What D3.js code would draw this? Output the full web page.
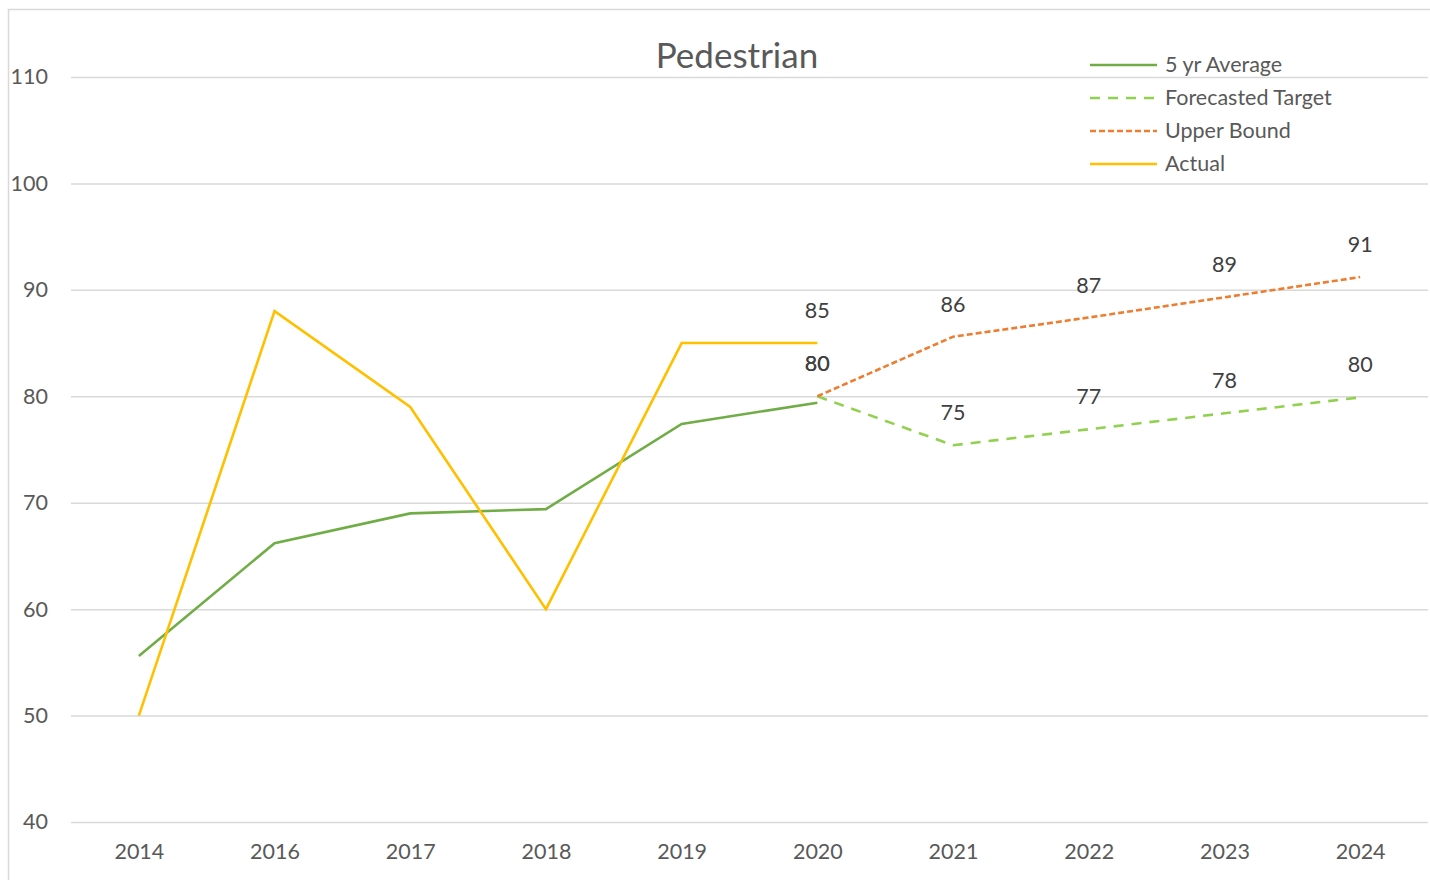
<!DOCTYPE html>
<html>
<head>
<meta charset="utf-8">
<script src="https://cdn.jsdelivr.net/npm/d3@7"></script>
<style>
  body { margin: 0; background: #fff; }
  text { font-family: Lato, "Open Sans", sans-serif; }
</style>
</head>
<body>
<div class="chart"></div>
<script>
// data
var years = ["2014", "2016", "2017", "2018", "2019", "2020", "2021", "2022", "2023", "2024"];
var yTicks = [40, 50, 60, 70, 80, 90, 100, 110];

var actual = [50, 88, 79, 60, 85, 85, null, null, null, null];
var fiveYrAvg = [55.6, 66.2, 69.0, 69.4, 77.4, 79.4, null, null, null, null];
var forecastTarget = [null, null, null, null, null, 80, 75.4, 76.9, 78.4, 79.9];
var upperBound = [null, null, null, null, null, 80, 85.6, 87.4, 89.3, 91.2];

var actualLabels = [null, null, null, null, null, "85", null, null, null, null];
var targetLabels = [null, null, null, null, null, "80", "75", "77", "78", "80"];
var upperLabels = [null, null, null, null, null, "80", "86", "87", "89", "91"];

// dimensions
var W = 1430, H = 880;
var margin = {top: 77, right: 2, bottom: 58, left: 71};
var width = W - margin.left - margin.right;
var height = H - margin.top - margin.bottom;

var svg = d3.select(".chart")
  .append("svg")
  .attr("width", W)
  .attr("height", H);

// outer frame
svg.append("rect")
  .attr("x", 8.5).attr("y", 9.5)
  .attr("width", W).attr("height", H)
  .attr("fill", "none")
  .attr("stroke", "#d9d9d9")
  .attr("stroke-width", 1.5);

var chart = svg.append("g")
  .attr("transform", "translate(" + margin.left + "," + margin.top + ")");

// scales
var x = d3.scalePoint().domain(years).range([0, width]).padding(0.5);
var y = d3.scaleLinear().domain([40, 110]).range([height, 0]);

// gridlines
chart.append("g")
  .attr("class", "grid")
  .call(d3.axisLeft(y).tickValues(yTicks).tickSize(-width).tickFormat(""))
  .call(function(g) {
    g.select(".domain").remove();
    g.selectAll("line").attr("stroke", "#d9d9d9").attr("stroke-width", 1.5);
  });

// y axis labels
chart.append("g")
  .call(d3.axisLeft(y).tickValues(yTicks).tickSize(0).tickPadding(23))
  .call(function(g) {
    g.select(".domain").remove();
    g.selectAll("text").attr("fill", "#595959").style("font-size", "21.5px");
  });

// x axis labels
chart.append("g")
  .attr("transform", "translate(0," + height + ")")
  .call(d3.axisBottom(x).tickSize(0).tickPadding(22))
  .call(function(g) {
    g.select(".domain").remove();
    g.selectAll("text").attr("fill", "#595959").style("font-size", "21.5px");
  });

// lines
var line = d3.line()
  .defined(function(d) { return d.v != null; })
  .x(function(d) { return x(d.k); })
  .y(function(d) { return y(d.v); });

function pair(vals) {
  return years.map(function(k, i) { return {k: k, v: vals[i]}; });
}

var series = [
  {vals: fiveYrAvg, color: "#70ad47", dash: null},
  {vals: forecastTarget, color: "#92d050", dash: "10,8"},
  {vals: upperBound, color: "#ed7d31", dash: "6,3"},
  {vals: actual, color: "#ffc000", dash: null}
];

series.forEach(function(s) {
  chart.append("path")
    .datum(pair(s.vals))
    .attr("fill", "none")
    .attr("stroke", s.color)
    .attr("stroke-width", 2.6)
    .attr("stroke-dasharray", s.dash)
    .attr("d", line);
});

// data labels
function addLabels(vals, labels) {
  chart.selectAll(null)
    .data(pair(vals).filter(function(d, i) { return labels[i] != null; }).map(function(d) {
      d.t = labels[years.indexOf(d.k)];
      return d;
    }))
    .enter()
    .append("text")
    .attr("x", function(d) { return x(d.k); })
    .attr("y", function(d) { return y(d.v) - 25; })
    .attr("text-anchor", "middle")
    .attr("fill", "#404040")
    .style("font-size", "21.5px")
    .text(function(d) { return d.t; });
}
addLabels(actual, actualLabels);
addLabels(forecastTarget, targetLabels);
addLabels(upperBound, upperLabels);

// title
svg.append("text")
  .attr("x", 737)
  .attr("y", 68)
  .attr("text-anchor", "middle")
  .attr("fill", "#595959")
  .style("font-size", "35px")
  .text("Pedestrian");

// legend
var legendItems = [
  {name: "5 yr Average", color: "#70ad47", dash: null},
  {name: "Forecasted Target", color: "#92d050", dash: "10,8"},
  {name: "Upper Bound", color: "#ed7d31", dash: "6,3"},
  {name: "Actual", color: "#ffc000", dash: null}
];
var legend = svg.append("g").attr("transform", "translate(1090,65)");
legendItems.forEach(function(d, i) {
  legend.append("line")
    .attr("x1", 0).attr("x2", 67)
    .attr("y1", i * 33).attr("y2", i * 33)
    .attr("stroke", d.color)
    .attr("stroke-width", 2.6)
    .attr("stroke-dasharray", d.dash);
  legend.append("text")
    .attr("x", 75)
    .attr("y", i * 33 + 7)
    .attr("fill", "#595959")
    .style("font-size", "21.5px")
    .text(d.name);
});
</script>
</body>
</html>
